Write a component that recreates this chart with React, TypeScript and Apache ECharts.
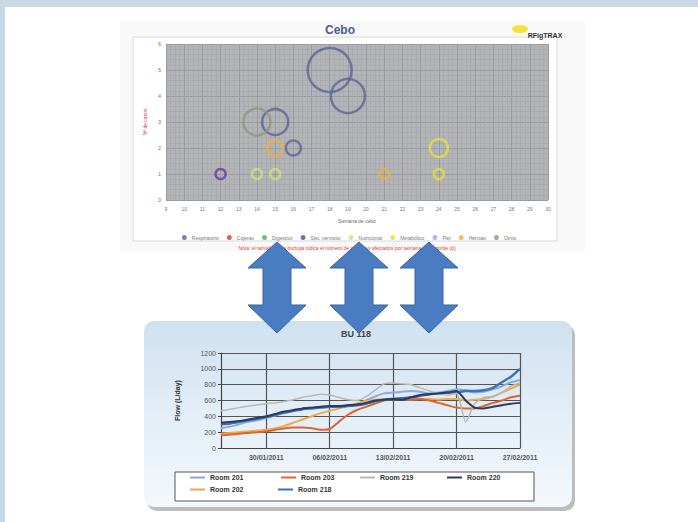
import React, { useEffect, useRef } from "react";
import * as echarts from "echarts";

// ---------- Top bubble chart (Cebo) ----------
const bubbleTitle = "Cebo";
const bubbleXTicks = [9, 10, 11, 12, 13, 14, 15, 16, 17, 18, 19, 20, 21, 22, 23, 24, 25, 26, 27, 28, 29, 30];
const bubbleYTicks = [0, 1, 2, 3, 4, 5, 6];
const bubbleNames = ["Respiratorio", "Cojeras", "Digestivo", "Sist. nervioso", "Nutricional", "Metabólico", "Piel", "Hernias", "Otros"];
// [week, cases, bubble size]
const respiratorio = [[18, 5, 22], [19, 4, 17], [15, 3, 13], [16, 2, 7.5]];
const cojeras: number[][] = [];
const digestivo: number[][] = [];
const sistNervioso = [[12, 1, 5]];
const nutricional = [[14, 1, 5], [15, 1, 5]];
const metabolico = [[24, 2, 9], [24, 1, 5]];
const piel: number[][] = [];
const hernias = [[15, 2, 8], [21, 1, 5]];
const otros = [[14, 3, 13.5]];
const bubbleSeriesData = [respiratorio, cojeras, digestivo, sistNervioso, nutricional, metabolico, piel, hernias, otros];
const bubbleColors = ["#5d6594", "#d2402f", "#5aa85a", "#6a3fa0", "#cde07a", "#e6df3a", "#8fb0dc", "#efae3c", "#8e987a"];

// ---------- Bottom line chart (BU 118) ----------
const lineTitle = "BU 118";
const dates = [
  "25/01/2011", "26/01/2011", "27/01/2011", "28/01/2011", "29/01/2011", "30/01/2011", "31/01/2011",
  "01/02/2011", "02/02/2011", "03/02/2011", "04/02/2011", "05/02/2011", "06/02/2011", "07/02/2011",
  "08/02/2011", "09/02/2011", "10/02/2011", "11/02/2011", "12/02/2011", "13/02/2011", "14/02/2011",
  "15/02/2011", "16/02/2011", "17/02/2011", "18/02/2011", "19/02/2011", "20/02/2011", "21/02/2011",
  "22/02/2011", "23/02/2011", "24/02/2011", "25/02/2011", "26/02/2011", "27/02/2011",
];
const dateTicks = ["30/01/2011", "06/02/2011", "13/02/2011", "20/02/2011", "27/02/2011"];
const room201 = [250, 270, 300, 330, 350, 380, 410, 440, 470, 500, 510, 520, 520, 530, 540, 560, 600, 650, 690, 700, 710, 720, 710, 690, 700, 720, 740, 730, 700, 710, 740, 780, 830, 860];
const room202 = [180, 190, 200, 210, 220, 230, 250, 280, 320, 360, 400, 440, 470, 500, 530, 560, 590, 610, 620, 620, 620, 610, 620, 620, 610, 620, 620, 600, 610, 620, 650, 700, 750, 800];
const room203 = [160, 170, 180, 190, 200, 210, 230, 250, 260, 260, 250, 230, 240, 330, 420, 480, 520, 560, 600, 620, 620, 610, 620, 600, 570, 540, 510, 500, 500, 530, 570, 600, 640, 660];
const room218 = [300, 310, 330, 350, 370, 390, 420, 450, 470, 490, 500, 510, 520, 520, 530, 540, 560, 590, 610, 620, 630, 640, 660, 680, 690, 700, 700, 720, 720, 730, 760, 830, 900, 1000];
const room219 = [470, 490, 510, 530, 545, 560, 570, 590, 610, 640, 660, 680, 670, 640, 610, 600, 650, 730, 810, 820, 810, 800, 760, 720, 690, 670, 690, 330, 560, 640, 650, 700, 780, 820];
const room220 = [320, 330, 340, 360, 380, 400, 430, 460, 480, 500, 510, 520, 530, 530, 540, 550, 570, 600, 610, 620, 610, 640, 670, 680, 690, 700, 720, 600, 510, 500, 520, 540, 560, 570];
const roomNames = ["Room 201", "Room 202", "Room 203", "Room 218", "Room 219", "Room 220"];
const roomData = [room201, room202, room203, room218, room219, room220];
const roomColors = ["#8aaad6", "#f0a848", "#e0652c", "#3c72b4", "#b8b8b8", "#2b3a5e"];
const roomWidths = [2, 2, 2, 2.5, 1.5, 2];
const lineYTicks = [0, 200, 400, 600, 800, 1000, 1200];

const FONT = "Liberation Sans, Arial, sans-serif";

function arrowPoints(cx: number): number[][] {
  return [
    [cx, 242], [cx + 29, 268], [cx + 14, 268], [cx + 14, 305], [cx + 29, 305],
    [cx, 333], [cx - 29, 305], [cx - 14, 305], [cx - 14, 268], [cx - 29, 268],
  ];
}

export default function App() {
  const ref = useRef<HTMLDivElement>(null);
  useEffect(() => {
    if (!ref.current) return;
    const chart = echarts.init(ref.current, null, { renderer: "svg" });
    const tickIdx = dateTicks.map((d) => dates.indexOf(d));
    const legendPos = [
      { name: "Room 201", left: 190, top: 474 },
      { name: "Room 203", left: 281, top: 474 },
      { name: "Room 219", left: 360, top: 474 },
      { name: "Room 220", left: 447, top: 474 },
      { name: "Room 202", left: 190, top: 486 },
      { name: "Room 218", left: 278, top: 486 },
    ];
    const option: any = {
      animation: false,
      backgroundColor: "#ffffff",
      textStyle: { fontFamily: FONT },
      graphic: [
        { type: "rect", z: -10, shape: { x: 0, y: 0, width: 698, height: 7 }, style: { fill: "#c6d9e4" } },
        { type: "rect", z: -10, shape: { x: 0, y: 0, width: 5, height: 522 }, style: { fill: "#c6d9e4" } },
        { type: "rect", z: -9, shape: { x: 120, y: 20, width: 465, height: 232 }, style: { fill: "#f9f9f9" } },
        { type: "rect", z: -8, shape: { x: 133, y: 37, width: 424, height: 204 }, style: { fill: "#ffffff", stroke: "#d9d9d9", lineWidth: 1 } },
        { type: "text", z: 5, x: 340, y: 30, style: { text: bubbleTitle, fill: "#4a58a0", font: "bold 12px " + FONT, textAlign: "center", textVerticalAlign: "middle" } },
        { type: "ellipse", z: 5, shape: { cx: 520, cy: 29, rx: 8, ry: 4 }, style: { fill: "#f2e23a" } },
        { type: "text", z: 6, x: 545, y: 35, style: { text: "RFigTRAX", fill: "#333", font: "bold 7px " + FONT, textAlign: "center", textVerticalAlign: "middle" } },
        { type: "text", z: 5, x: 347, y: 248, style: { text: "Nota: el tamaño de la burbuja indica el número de animales afectados por semana de engorde (d)", fill: "#e04a3a", font: "5px " + FONT, textAlign: "center", textVerticalAlign: "middle" } },
        // bottom panel shadow + panel
        { type: "rect", z: -9, shape: { x: 147, y: 325, width: 428, height: 186, r: 10 }, style: { fill: "#bdbdbd" } },
        {
          type: "rect", z: -8, shape: { x: 144, y: 321, width: 428, height: 186, r: 10 },
          style: {
            fill: new echarts.graphic.LinearGradient(0, 0, 0, 1, [
              { offset: 0, color: "#cfe1f0" }, { offset: 0.5, color: "#e3eef7" }, { offset: 1, color: "#f3f8fc" },
            ]),
          },
        },
        { type: "text", z: 5, x: 356, y: 334, style: { text: lineTitle, fill: "#444", font: "bold 9px " + FONT, textAlign: "center", textVerticalAlign: "middle" } },
        { type: "rect", z: 1, shape: { x: 175, y: 472, width: 359, height: 29 }, style: { fill: "#ffffff", stroke: "#555", lineWidth: 1 } },
        ...[277, 359, 429].map((cx) => ({
          type: "polygon", z: 100, shape: { points: arrowPoints(cx) },
          style: { fill: "#4a7cc2", stroke: "#3a64a0", lineWidth: 1 },
        })),
      ],
      grid: [
        { left: 166, top: 44, right: 150, bottom: 322, show: true, backgroundColor: "#b3b4b8", borderWidth: 0 },
        { left: 221, top: 353, right: 178, bottom: 74, show: false },
      ],
      xAxis: [
        {
          gridIndex: 0, type: "value", min: bubbleXTicks[0], max: bubbleXTicks[bubbleXTicks.length - 1], interval: 1,
          name: "Semana de cebo", nameLocation: "middle", nameGap: 18,
          nameTextStyle: { fontSize: 5, color: "#666" },
          axisLine: { show: false }, axisTick: { show: false },
          axisLabel: { fontSize: 5, color: "#777", margin: 6 },
          splitLine: { show: true, lineStyle: { color: "#9a9ba0", width: 1 } },
          minorTick: { show: false, splitNumber: 4 },
          minorSplitLine: { show: true, lineStyle: { color: "#a4a5aa", width: 0.6 } },
        },
        {
          gridIndex: 1, type: "category", data: dates, boundaryGap: false,
          axisLine: { lineStyle: { color: "#444", width: 1.2 } },
          axisTick: { show: false },
          axisLabel: {
            interval: (i: number) => tickIdx.includes(i), fontSize: 7, color: "#555", fontWeight: "bold", margin: 6,
          },
          splitLine: { show: true, interval: (i: number) => tickIdx.includes(i), lineStyle: { color: "#555", width: 1.2 } },
        },
      ],
      yAxis: [
        {
          gridIndex: 0, type: "value", min: bubbleYTicks[0], max: bubbleYTicks[bubbleYTicks.length - 1], interval: 1,
          name: "Nº de casos", nameLocation: "middle", nameGap: 11, nameRotate: 90,
          nameTextStyle: { fontSize: 5, color: "#d04040" },
          axisLine: { show: false }, axisTick: { show: false },
          axisLabel: { fontSize: 5, color: "#d04040", margin: 5 },
          splitLine: { show: true, lineStyle: { color: "#9a9ba0", width: 1 } },
          minorTick: { show: false, splitNumber: 5 },
          minorSplitLine: { show: true, lineStyle: { color: "#a4a5aa", width: 0.6 } },
        },
        {
          gridIndex: 1, type: "value", min: lineYTicks[0], max: lineYTicks[lineYTicks.length - 1], interval: 200,
          name: "Flow (L/day)", nameLocation: "middle", nameGap: 40, nameRotate: 90,
          nameTextStyle: { fontSize: 7, color: "#333", fontWeight: "bold" },
          axisLine: { show: true, lineStyle: { color: "#444", width: 1.2 } },
          axisTick: { show: true, length: 3, lineStyle: { color: "#444" } },
          axisLabel: { fontSize: 7, color: "#555", margin: 5, formatter: (v: number) => String(v) },
          splitLine: { show: true, lineStyle: { color: "#555", width: 1.2 } },
        },
      ],
      legend: [
        {
          data: bubbleNames.map((n, i) => ({ name: n, itemStyle: { color: bubbleColors[i], borderWidth: 0 } })),
          top: 230, left: "center", icon: "circle", itemWidth: 5, itemHeight: 5, itemGap: 8,
          textStyle: { fontSize: 5, color: "#777" },
        },
        ...legendPos.map((p) => ({
          data: [p.name], left: p.left, top: p.top, icon: "rect", itemWidth: 15, itemHeight: 2, itemGap: 0,
          textStyle: { fontSize: 7, color: "#333", fontWeight: "bold" }, padding: 0, z: 10,
        })),
      ],
      series: [
        ...bubbleNames.map((name, i) => ({
          name, type: "scatter", xAxisIndex: 0, yAxisIndex: 0,
          data: bubbleSeriesData[i],
          symbolSize: (v: number[]) => v[2] * 2,
          itemStyle: { color: "rgba(0,0,0,0)", borderColor: bubbleColors[i], borderWidth: 2.5 },
          emphasis: { disabled: true },
        })),
        ...roomNames.map((name, i) => ({
          name, type: "line", xAxisIndex: 1, yAxisIndex: 1, data: roomData[i],
          showSymbol: false, symbol: "none", smooth: 0.2,
          color: roomColors[i],
          lineStyle: { color: roomColors[i], width: roomWidths[i] },
        })),
      ],
    };
    chart.setOption(option);
    return () => chart.dispose();
  }, []);
  return <div ref={ref} style={{ position: "fixed", left: 0, top: 0, width: 698, height: 522 }} />;
}
